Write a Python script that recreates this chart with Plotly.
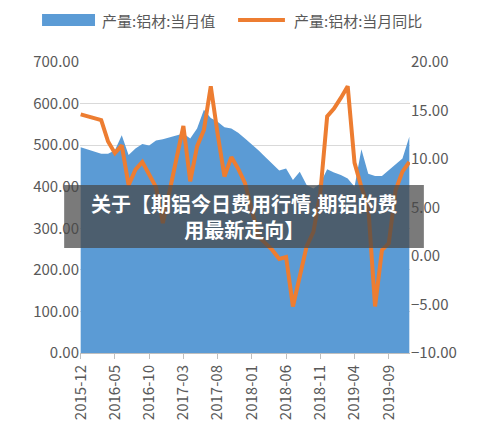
import plotly.graph_objects as go
import pandas as pd

months = pd.date_range("2015-12-01", periods=49, freq="MS").strftime("%Y-%m").tolist()
output = [495,490,484,479,479,488,524,476,492,503,499,511,514,519,524,528,516,540,585,565,
          556,543,540,530,516,502,487,471,455,439,444,416,436,404,396,408,442,434,428,420,
          400,490,431,426,426,440,455,468,520]
yoy = [14.6,14.4,14.2,14.0,11.8,10.6,11.4,7.3,8.9,9.7,8.4,7.1,3.4,6.8,10.2,13.4,7.7,11.3,13.0,17.5,
       12.6,8.2,10.2,9.0,7.5,4.7,2.0,1.3,0.6,-0.3,-0.1,-5.2,-2.1,1.0,2.5,6.5,14.4,15.2,16.3,17.5,
       9.6,7.1,5.1,-5.2,0.6,1.3,6.8,8.7,9.7]
tick_labels = months[::5]
names = ["产量:铝材:当月值", "产量:铝材:当月同比"]

fig = go.Figure()
fig.add_trace(go.Scatter(x=months, y=output, name=names[0], fill="tozeroy",
                         mode="lines", line=dict(color="#5B9BD5", width=0), fillcolor="#5B9BD5"))
fig.add_trace(go.Scatter(x=months, y=yoy, name=names[1], yaxis="y2",
                         mode="lines", line=dict(color="#ED7D31", width=4)))
font = dict(family="Noto Sans CJK SC, Noto Sans", size=15, color="#595959")
fig.update_layout(
    width=489, height=434, margin=dict(l=72, r=87, t=54, b=89),
    plot_bgcolor="white", paper_bgcolor="white", font=font, showlegend=False,
    xaxis=dict(type="category", tickvals=tick_labels, ticktext=tick_labels, tickangle=-90,
               showgrid=False, showline=True, linecolor="#BFBFBF", ticks="outside",
               tickcolor="#BFBFBF", ticklen=5, range=[-0.1, 48.1], automargin=False),
    yaxis=dict(range=[0, 700], dtick=100, tickformat=".2f", gridcolor="#D9D9D9",
               zeroline=False, automargin=False),
    yaxis2=dict(range=[-10, 20], dtick=5, tickformat=".2f", overlaying="y", side="right",
                showgrid=False, zeroline=False, automargin=False),
)
# legend drawn manually
fig.add_shape(type="rect", xref="paper", yref="paper", x0=-0.115, x1=0.0455, y0=1.124, y1=1.165,
              fillcolor="#5B9BD5", line_width=0)
fig.add_annotation(xref="paper", yref="paper", x=0.061, y=1.144, xanchor="left", yanchor="middle",
                   showarrow=False, text=names[0], font=dict(size=15, color="#595959"))
fig.add_shape(type="line", xref="paper", yref="paper", x0=0.479, x1=0.621, y0=1.144, y1=1.144,
              line=dict(color="#ED7D31", width=4))
fig.add_annotation(xref="paper", yref="paper", x=0.642, y=1.144, xanchor="left", yanchor="middle",
                   showarrow=False, text=names[1], font=dict(size=15, color="#595959"))

fig.add_shape(type="rect", xref="paper", yref="paper", x0=-0.048, x1=1.042, y0=0.361, y1=0.577,
              fillcolor="rgba(70,70,70,0.72)", line_width=0, layer="above")
fig.add_annotation(xref="paper", yref="paper", x=0.497, y=0.469, showarrow=False,
                   text="<b>关于【期铝今日费用行情,期铝的费<br>用最新走向】</b>",
                   font=dict(family="Noto Sans CJK SC", size=20, color="white"), align="center")
fig.write_html("out.html")
